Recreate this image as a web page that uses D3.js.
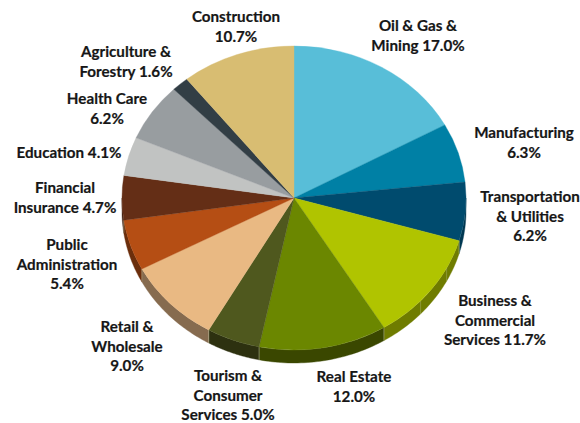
<!DOCTYPE html>
<html>
<head>
<meta charset="utf-8">
<script src="https://cdn.jsdelivr.net/npm/d3@7"></script>
<style>
  html, body { margin: 0; padding: 0; background: #fff; }
  svg { display: block; }
  text { font-family: Lato, sans-serif; font-weight: 700; font-size: 15.2px; fill: #161616; stroke: #161616; stroke-width: 0.2px; text-anchor: middle; }
</style>
</head>
<body>
<div id="chart"></div>
<script>
// Sector data, clockwise from 12 o'clock
const sectors = ["Oil & Gas & Mining", "Manufacturing", "Transportation & Utilities",
    "Business & Commercial Services", "Real Estate", "Tourism & Consumer Services",
    "Retail & Wholesale", "Public Administration", "Financial Insurance", "Education",
    "Health Care", "Agriculture & Forestry", "Construction"];
const shares = [17.0, 6.3, 6.2, 11.7, 12.0, 5.0, 9.0, 5.4, 4.7, 4.1, 6.2, 1.6, 10.7];
const topColors = ["#58bed8", "#0080a5", "#004b6e", "#b0c400", "#6b8700", "#4f581e", "#e9b983",
    "#b54e14", "#642e16", "#c1c3c2", "#989da0", "#323e45", "#d8bd72"];
const sideColors = ["#3a8ea3", "#00607c", "#003852", "#6f7c00", "#3a4700", "#2d3110", "#866b4f",
    "#6b2e0c", "#3f1c0d", "#85878a", "#6a6d70", "#22292e", "#a08c54"];

// Label text, one entry per printed line
const labelLines = [
    ["Oil & Gas &", "Mining 17.0%"],
    ["Manufacturing", "6.3%"],
    ["Transportation", "& Utilities", "6.2%"],
    ["Business &", "Commercial", "Services 11.7%"],
    ["Real Estate", "12.0%"],
    ["Tourism &", "Consumer", "Services 5.0%"],
    ["Retail &", "Wholesale", "9.0%"],
    ["Public", "Administration", "5.4%"],
    ["Financial", "Insurance 4.7%"],
    ["Education 4.1%"],
    ["Health Care", "6.2%"],
    ["Agriculture &", "Forestry 1.6%"],
    ["Construction", "10.7%"]
];

// Layout
const width = 580, height = 423;
const cx = 294, cy = 198, rx = 172, ry = 152, depth = 13;
const lineHeight = 19.6;
// centre x and first baseline of each label block
const labelPos = [[418, 31], [524, 138], [530, 202], [495, 306], [354, 382], [228, 381],
    [127, 332], [67, 250], [65, 193], [69, 158], [107, 104], [126, 57], [236, 22]];
// faint extra seams on the Business wall, in share units round the pie
const extraSeams = [32.6, 36.8];

const svg = d3.select("#chart").append("svg")
    .attr("width", width)
    .attr("height", height);

const pie = d3.pie().value(d => d).sort(null);
const slices = pie(shares);

const arc = d3.arc().innerRadius(0).outerRadius(rx);
const squash = ry / rx;
const shareToAngle = d3.scaleLinear().domain([0, d3.sum(shares)]).range([0, 2 * Math.PI]);

// Rim of the tilted disc: only the part of each slice facing the viewer
const rimPoint = (a, dy) => [cx + rx * Math.sin(a), cy - ry * Math.cos(a) + dy];

const wall = svg.append("g");
slices.forEach((s, i) => {
    const a0 = Math.max(s.startAngle, Math.PI / 2);
    const a1 = Math.min(s.endAngle, Math.PI * 1.5);
    if (a1 <= a0) return;
    const steps = d3.range(0, 41).map(k => a0 + (a1 - a0) * k / 40);
    const outline = steps.map(a => rimPoint(a, 0))
        .concat(steps.slice().reverse().map(a => rimPoint(a, depth)));
    wall.append("path")
        .attr("d", d3.line()(outline) + "Z")
        .attr("fill", sideColors[i])
        .attr("stroke", sideColors[i])
        .attr("stroke-width", 0.4);
    // pale seam where two slices meet on the rim
    if (s.startAngle > Math.PI / 2 && s.startAngle < Math.PI * 1.5) {
        wall.append("path")
            .attr("d", d3.line()([rimPoint(s.startAngle, 0), rimPoint(s.startAngle, depth)]))
            .attr("stroke", "#c9cba8")
            .attr("stroke-opacity", 0.7)
            .attr("stroke-width", 0.7);
    }
});

extraSeams.forEach(v => {
    const a = shareToAngle(v);
    wall.append("path")
        .attr("d", d3.line()([rimPoint(a, 0), rimPoint(a, depth)]))
        .attr("stroke", "#c9cba8")
        .attr("stroke-opacity", 0.45)
        .attr("stroke-width", 0.7);
});

const disc = svg.append("g")
    .attr("transform", `translate(${cx},${cy}) scale(1,${squash})`);

disc.selectAll("path")
    .data(slices)
    .enter()
    .append("path")
    .attr("d", arc)
    .attr("fill", (d, i) => topColors[i])
    .attr("stroke", (d, i) => topColors[i])
    .attr("stroke-width", 0.4);

// Labels
const labels = svg.selectAll(".label")
    .data(labelLines)
    .enter()
    .append("text")
    .attr("class", "label")
    .attr("transform", (d, i) => `translate(${labelPos[i][0]},${labelPos[i][1]})`);

labels.selectAll("tspan")
    .data(d => d)
    .enter()
    .append("tspan")
    .attr("x", 0)
    .attr("y", (d, i) => i * lineHeight)
    .text(d => d);
</script>
</body>
</html>
